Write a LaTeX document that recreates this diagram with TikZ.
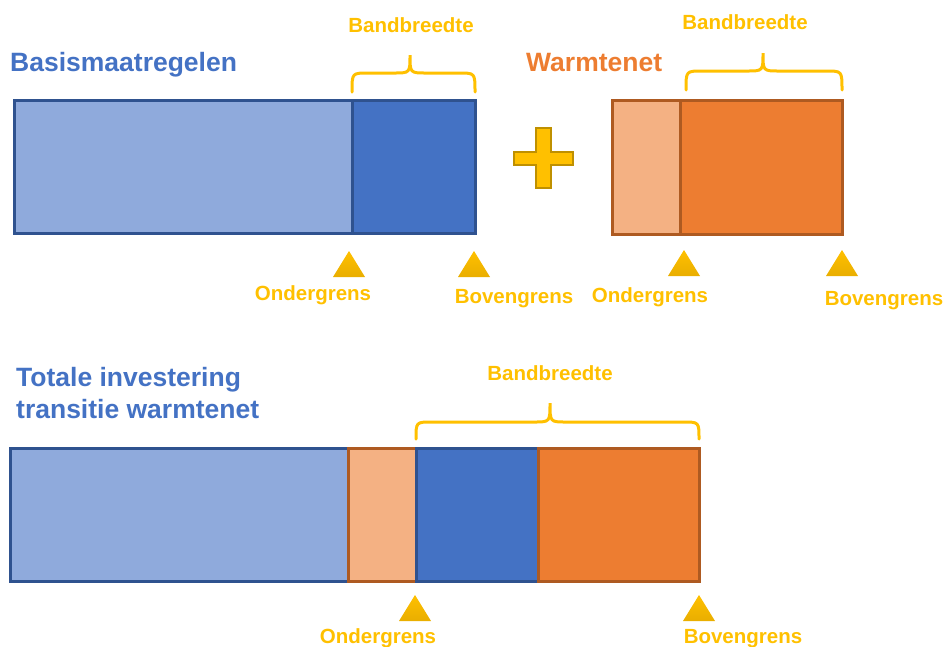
\documentclass[tikz,border=0pt]{standalone}
\usepackage{fontspec}
\setmainfont{Liberation Sans}
\definecolor{lblue}{HTML}{8FAADC}
\definecolor{dblue}{HTML}{4472C4}
\definecolor{bblue}{HTML}{2F528F}
\definecolor{lorange}{HTML}{F4B183}
\definecolor{dorange}{HTML}{ED7D31}
\definecolor{borange}{HTML}{AE5A21}
\definecolor{gold}{HTML}{FFC000}
\definecolor{dgold}{HTML}{BF9000}
\definecolor{tgold}{HTML}{E9AE00}
\tikzset{
  bluebox/.style={draw=bblue,line width=3pt},
  orangebox/.style={draw=borange,line width=3pt},
  brc/.style={draw=gold,line width=3pt,line cap=round},
  lbl/.style={text=gold,font=\bfseries\fontsize{20.5}{24}\selectfont,anchor=base,inner sep=0pt},
  ttl/.style={font=\bfseries\fontsize{26.5}{32}\selectfont,anchor=base west,inner sep=0pt},
  tri/.style={top color=gold,bottom color=tgold,draw=none}
}
\newcommand{\mybrace}[6]{% x0 x1 xm ybottom yarm ytip
  \draw[brc] (#1,#4) .. controls (#1,#5) .. (#1+16,#5) -- (#3-16,#5)
     .. controls (#3,#5) .. (#3,#6) .. controls (#3,#5) .. (#3+16,#5)
     -- (#2-16,#5) .. controls (#2,#5) .. (#2,#4);}
\newcommand{\mytri}[2]{% x apex y
  \path[tri] (#1,#2) -- (#1+16,#2+26) -- (#1-16,#2+26) -- cycle;}
\begin{document}
\begin{tikzpicture}[x=1pt,y=-1pt]
\useasboundingbox (0,0) rectangle (948,646);
% top left bar
\filldraw[bluebox,fill=lblue] (14,100) rectangle (352,233);
\filldraw[bluebox,fill=dblue] (352,100) rectangle (475,233);
\node[ttl,text=dblue] (t1) at (10,71) {Basismaatregelen};
\mybrace{352}{475}{410}{92}{73}{55}
\node[lbl] (b1) at (411,32) {Bandbreedte};
\mytri{349}{251}
\mytri{474}{251}
\node[lbl] (o1) at (313,300) {Ondergrens};
\node[lbl] (v1) at (514,303) {Bovengrens};
% plus
\filldraw[fill=gold,draw=dgold,line width=2pt]
  (536,128) -- (551,128) -- (551,152) -- (573,152) -- (573,165) -- (551,165)
  -- (551,188) -- (536,188) -- (536,165) -- (514,165) -- (514,152) -- (536,152) -- cycle;
% top right bar
\filldraw[orangebox,fill=lorange] (612,100) rectangle (680,234);
\filldraw[orangebox,fill=dorange] (680,100) rectangle (842,234);
\node[ttl,text=dorange] (t2) at (526,71) {Warmtenet};
\mybrace{686}{842}{763}{90}{71}{53}
\node[lbl] (b2) at (745,29) {Bandbreedte};
\mytri{684}{250}
\mytri{842}{250}
\node[lbl] (o2) at (650,302) {Ondergrens};
\node[lbl] (v2) at (884,305) {Bovengrens};
% bottom
\node[ttl,text=dblue] (t3) at (16,386) {Totale investering};
\node[ttl,text=dblue] (t4) at (16,418) {transitie warmtenet};
\filldraw[bluebox,fill=lblue] (10,448) rectangle (348,581);
\filldraw[orangebox,fill=lorange] (348,448) rectangle (416,581);
\filldraw[bluebox,fill=dblue] (416,448) rectangle (538,581);
\filldraw[orangebox,fill=dorange] (538,448) rectangle (699,581);
\mybrace{416}{699}{550}{439}{422}{403}
\node[lbl] (b3) at (550,380) {Bandbreedte};
\mytri{415}{595}
\mytri{699}{595}
\node[lbl] (o3) at (378,643) {Ondergrens};
\node[lbl] (v3) at (743,643) {Bovengrens};
\end{tikzpicture}
\end{document}
